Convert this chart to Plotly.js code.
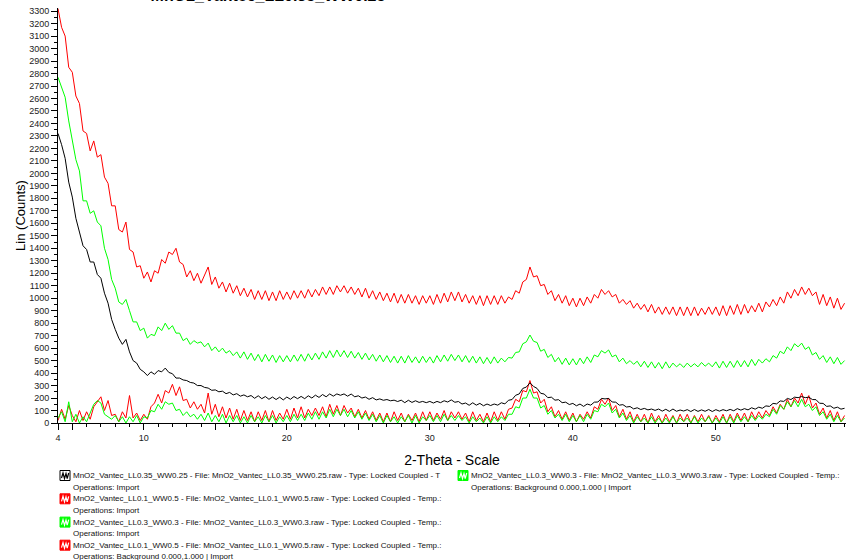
<!DOCTYPE html>
<html>
<head>
<meta charset="utf-8">
<script src="https://cdn.plot.ly/plotly-3.0.1.min.js"></script>
<style>
  html, body { margin: 0; padding: 0; background: #ffffff; }
  #chart { width: 846px; height: 560px; }
</style>
</head>
<body>
<div id="chart"></div>
<script>
// Scan grid: 2-Theta from 4° in 0.25° steps (one row below = one degree)
const thetaStart = 4;
const thetaStep = 0.25;

const scanNames = [
  "MnO2_Vantec_LL0.35_WW0.25 - File: MnO2_Vantec_LL0.35_WW0.25.raw - Type: Locked Coupled - T",
  "MnO2_Vantec_LL0.1_WW0.5 - File: MnO2_Vantec_LL0.1_WW0.5.raw - Type: Locked Coupled - Temp.:",
  "MnO2_Vantec_LL0.3_WW0.3 - File: MnO2_Vantec_LL0.3_WW0.3.raw - Type: Locked Coupled - Temp.:",
  "MnO2_Vantec_LL0.1_WW0.5 - File: MnO2_Vantec_LL0.1_WW0.5.raw - Type: Locked Coupled - Temp.:",
  "MnO2_Vantec_LL0.3_WW0.3 - File: MnO2_Vantec_LL0.3_WW0.3.raw - Type: Locked Coupled - Temp.:"
];
const scanOps = [
  "Operations: Import",
  "Operations: Import",
  "Operations: Import",
  "Operations: Background 0.000,1.000 | Import",
  "Operations: Background 0.000,1.000 | Import"
];
const scanColors = ["#000000", "#ff0000", "#00ff00", "#ff0000", "#00ff00"];

// Counts, LL0.35_WW0.25 (raw)
const countsLL035 = [
  2320, 2230, 2120, 1930,
  1810, 1640, 1530, 1420,
  1390, 1290, 1290, 1190,
  1160, 1040, 960, 830,
  750, 680, 630, 670,
  570, 500, 480, 430,
  410, 380, 410, 390,
  420, 410, 440, 405,
  395, 360, 360, 345,
  340, 325, 320, 300,
  300, 285, 280, 262,
  265, 250, 255, 235,
  245, 225, 235, 215,
  225, 210, 220, 198,
  218, 195, 212, 190,
  208, 188, 207, 185,
  208, 190, 212, 195,
  213, 195, 218, 200,
  223, 205, 228, 210,
  233, 215, 233, 222,
  233, 215, 232, 210,
  218, 200, 208, 190,
  203, 185, 193, 182,
  188, 178, 183, 172,
  183, 163, 182, 165,
  178, 165, 173, 163,
  173, 160, 173, 163,
  178, 168, 185, 166,
  172, 152, 160, 142,
  162, 143, 157, 138,
  152, 140, 152, 143,
  162, 153, 182, 188,
  222, 233, 277, 288,
  322, 293, 277, 238,
  232, 203, 207, 183,
  187, 163, 167, 148,
  157, 138, 152, 133,
  152, 143, 167, 168,
  197, 193, 197, 168,
  167, 143, 147, 128,
  132, 113, 122, 108,
  117, 105, 112, 101,
  112, 95, 110, 93,
  112, 94, 104, 96,
  107, 92, 108, 93,
  105, 94, 108, 92,
  107, 95, 107, 98,
  109, 98, 115, 103,
  115, 105, 122, 111,
  127, 118, 137, 133,
  157, 153, 177, 173,
  197, 188, 207, 203,
  212, 203, 207, 188,
  187, 158, 157, 133,
  137, 118, 127, 111,
  118
];

// Counts, LL0.1_WW0.5 (raw)
const countsLL01 = [
  3320, 3170, 3100, 2850,
  2810, 2620, 2560, 2340,
  2320, 2180, 2260, 2130,
  2150, 1970, 1920, 1740,
  1740, 1550, 1530, 1610,
  1390, 1370, 1250, 1260,
  1160, 1210, 1130, 1220,
  1200, 1310, 1280, 1370,
  1350, 1400, 1290, 1270,
  1170, 1220, 1140, 1200,
  1120, 1190, 1250, 1110,
  1170, 1080, 1130, 1050,
  1120, 1040, 1100, 1020,
  1080, 1010, 1070, 990,
  1060, 990, 1060, 980,
  1050, 980, 1060, 990,
  1050, 990, 1060, 1000,
  1060, 1000, 1070, 1010,
  1070, 1020, 1090, 1030,
  1090, 1030, 1100, 1050,
  1100, 1040, 1090, 1030,
  1080, 1010, 1080, 1000,
  1060, 990, 1050, 980,
  1040, 970, 1040, 960,
  1030, 960, 1030, 960,
  1020, 950, 1020, 960,
  1020, 950, 1030, 960,
  1040, 970, 1050, 980,
  1050, 970, 1030, 960,
  1020, 950, 1020, 940,
  1020, 950, 1020, 950,
  1020, 960, 1010, 990,
  1060, 1040, 1130, 1150,
  1250, 1170, 1180, 1100,
  1110, 1030, 1060, 980,
  1030, 960, 1020, 940,
  1000, 930, 1000, 940,
  1010, 960, 1030, 1000,
  1070, 1030, 1060, 1010,
  1030, 960, 990, 950,
  980, 920, 960, 910,
  950, 890, 950, 880,
  930, 870, 930, 870,
  930, 860, 930, 860,
  930, 860, 930, 860,
  920, 870, 930, 870,
  930, 860, 940, 860,
  940, 870, 950, 870,
  950, 880, 940, 890,
  960, 890, 970, 930,
  990, 940, 1010, 960,
  1050, 1000, 1070, 1020,
  1090, 1030, 1080, 1020,
  1050, 950, 1030, 940,
  1010, 920, 1000, 910,
  960
];

// Counts, LL0.3_WW0.3 (raw)
const countsLL03 = [
  2770, 2690, 2610, 2420,
  2260, 2110, 2020, 1780,
  1780, 1680, 1700, 1610,
  1580, 1400, 1310, 1150,
  1080, 970, 950, 990,
  900, 810, 810, 740,
  760, 680, 710, 700,
  770, 740, 800, 750,
  780, 720, 720, 660,
  680, 630, 660, 640,
  650, 610, 640, 580,
  610, 570, 600, 560,
  580, 540, 570, 520,
  570, 510, 560, 500,
  550, 490, 550, 495,
  545, 485, 540, 490,
  540, 490, 545, 495,
  550, 495, 555, 505,
  560, 510, 570, 520,
  580, 525, 585, 530,
  580, 525, 575, 520,
  565, 510, 560, 505,
  550, 495, 545, 490,
  540, 485, 535, 480,
  535, 480, 540, 485,
  530, 480, 535, 485,
  530, 480, 540, 490,
  545, 495, 550, 500,
  545, 490, 540, 485,
  535, 480, 530, 475,
  525, 475, 530, 480,
  520, 490, 525, 520,
  565, 570, 635, 650,
  705, 655, 645, 575,
  590, 525, 550, 490,
  525, 470, 520, 465,
  515, 465, 520, 475,
  530, 485, 545, 530,
  580, 560, 585, 530,
  545, 490, 520, 475,
  500, 470, 495, 450,
  495, 445, 490, 440,
  485, 435, 490, 440,
  480, 450, 475, 445,
  480, 450, 475, 450,
  485, 455, 480, 450,
  490, 440, 495, 445,
  495, 445, 500, 450,
  500, 450, 510, 460,
  510, 480, 515, 490,
  540, 520, 575, 555,
  610, 580, 635, 610,
  640, 590, 610, 545,
  565, 510, 540, 485,
  530, 475, 525, 470,
  500
];

// Counts, LL0.1_WW0.5 after background subtraction
const countsLL01Bkg = [
  20, 110, 30, 140,
  60, 10, 100, 20,
  90, 30, 130, 170,
  210, 100, 180, 60,
  70, 10, 90, 40,
  220, 40, 80, 20,
  70, 30, 130, 160,
  230, 160, 260, 240,
  310, 220, 290, 180,
  190, 120, 170, 110,
  150, 80, 240, 70,
  150, 50, 130, 40,
  120, 30, 110, 20,
  100, 20, 90, 10,
  90, 20, 100, 10,
  100, 20, 80, 30,
  110, 30, 120, 40,
  130, 40, 110, 60,
  120, 60, 130, 50,
  150, 70, 140, 60,
  140, 80, 120, 50,
  110, 40, 100, 30,
  90, 20, 80, 10,
  80, 10, 90, 20,
  80, 10, 70, 20,
  80, 10, 90, 20,
  90, 20, 80, 30,
  100, 20, 90, 40,
  90, 30, 80, 10,
  90, 20, 70, 10,
  80, 10, 90, 20,
  90, 30, 110, 120,
  190, 170, 260, 250,
  340, 240, 250, 160,
  190, 90, 130, 50,
  100, 30, 90, 20,
  80, 10, 70, 30,
  90, 40, 130, 110,
  190, 150, 200, 100,
  140, 50, 110, 30,
  90, 10, 70, 10,
  70, 0, 80, 10,
  60, 0, 70, 10,
  60, 0, 70, 10,
  70, 0, 60, 10,
  70, 10, 60, 0,
  60, 10, 70, 0,
  70, 10, 80, 20,
  80, 10, 90, 30,
  90, 40, 100, 60,
  130, 80, 150, 110,
  190, 130, 200, 160,
  240, 150, 220, 120,
  160, 70, 120, 40,
  100, 20, 90, 10,
  60
];

// Counts, LL0.3_WW0.3 after background subtraction
const countsLL03Bkg = [
  40, 90, 10, 170,
  10, 70, 0, 50,
  10, 80, 150, 180,
  160, 70, 50, 30,
  60, 10, 50, 0,
  50, 10, 60, 0,
  50, 40, 100, 90,
  150, 110, 170, 150,
  160, 100, 110, 60,
  90, 50, 70, 30,
  70, 20, 80, 10,
  60, 10, 70, 0,
  60, 10, 60, 0,
  50, 0, 60, 10,
  50, 0, 60, 10,
  60, 0, 50, 10,
  60, 10, 70, 20,
  70, 20, 80, 30,
  90, 30, 90, 40,
  110, 50, 110, 60,
  110, 50, 100, 40,
  90, 30, 80, 20,
  70, 10, 60, 0,
  60, 10, 50, 0,
  50, 10, 60, 0,
  60, 0, 50, 20,
  60, 10, 60, 10,
  70, 20, 60, 20,
  60, 20, 50, 0,
  50, 10, 40, 0,
  50, 0, 50, 10,
  50, 20, 70, 70,
  130, 120, 200, 200,
  270, 200, 200, 120,
  140, 70, 100, 40,
  70, 20, 70, 10,
  60, 10, 60, 10,
  70, 30, 100, 90,
  150, 130, 160, 80,
  110, 40, 80, 20,
  60, 0, 50, 10,
  40, 0, 50, 0,
  40, 0, 40, 0,
  50, 0, 40, 10,
  40, 0, 50, 0,
  40, 10, 50, 0,
  40, 0, 50, 0,
  50, 0, 60, 10,
  50, 10, 60, 20,
  60, 30, 70, 50,
  110, 70, 140, 110,
  170, 130, 180, 130,
  190, 130, 150, 100,
  130, 60, 90, 30,
  70, 10, 60, 10,
  40
];

const xTickVals = [4, 5, 10, 15, 20, 25, 30, 35, 40, 45, 50, 55];
const xTickText = ["4", "", "10", "", "20", "", "30", "", "40", "", "50", ""];

const FONT = "Arial, 'Liberation Sans', sans-serif";

// plot-area geometry in pixels (used to place the legend block below the axis)
const W = 846, H = 560;
const M = { l: 58, r: 0, t: 8, b: 137 };
const plotW = W - M.l - M.r, plotH = H - M.t - M.b;
const px = v => (v - M.l) / plotW;
const py = v => (H - M.b - v) / plotH;

// draw order: background-subtracted scans underneath, raw scans on top
const seriesY = [countsLL035, countsLL01, countsLL03, countsLL01Bkg, countsLL03Bkg];
const drawOrder = [3, 4, 1, 2, 0];
const traces = drawOrder.map(k => ({
  type: "scatter",
  mode: "lines",
  x0: thetaStart,
  dx: thetaStep,
  y: seriesY[k],
  name: scanNames[k],
  line: { color: scanColors[k], width: 1 },
  hoverinfo: "skip"
}));

// legend block: icon + two text lines per scan, two columns
const legendSlots = [
  { ix: 60, iy: 470.5 },
  { ix: 60, iy: 493.8 },
  { ix: 60, iy: 517.1 },
  { ix: 60, iy: 540.2 },
  { ix: 458, iy: 470.5 }
];
const annotations = [];
const shapes = [];
legendSlots.forEach((s, k) => {
  const c = scanColors[k];
  const boxed = c === "#000000";
  shapes.push({
    type: "rect", xref: "paper", yref: "paper",
    x0: px(s.ix), x1: px(s.ix + 10), y0: py(s.iy + 10), y1: py(s.iy),
    fillcolor: boxed ? "#ffffff" : c,
    line: { color: boxed ? "#000000" : c, width: 1 }
  });
  const wave = [[1.5, 7.5], [3, 2.5], [4.5, 8], [6, 3], [7.2, 8], [8.7, 2.5]];
  const path = wave.map((p, j) => (j ? "L" : "M") + px(s.ix + p[0]) + "," + py(s.iy + p[1])).join(" ");
  shapes.push({
    type: "path", xref: "paper", yref: "paper", path: path,
    line: { color: boxed ? "#000000" : "#ffffff", width: 1.2 }
  });
  annotations.push({
    xref: "paper", yref: "paper", x: px(s.ix + 10.5), y: py(s.iy + 5.2),
    xanchor: "left", yanchor: "middle", showarrow: false,
    text: scanNames[k], font: { family: FONT, size: 8, color: "#111111" }
  });
  annotations.push({
    xref: "paper", yref: "paper", x: px(s.ix + 11), y: py(s.iy + 16.7),
    xanchor: "left", yanchor: "middle", showarrow: false,
    text: scanOps[k], font: { family: FONT, size: 8, color: "#111111" }
  });
});

const layout = {
  width: W,
  height: H,
  margin: M,
  paper_bgcolor: "#ffffff",
  plot_bgcolor: "#ffffff",
  showlegend: false,
  hovermode: false,
  font: { family: FONT, color: "#222222" },
  title: {
    text: "<b>MnO2_Vantec_LL0.35_WW0.25</b>",
    font: { family: FONT, size: 16, color: "#000000" },
    x: 268 / W, xanchor: "center",
    y: 0.998, yanchor: "bottom"
  },
  xaxis: {
    range: [4, 59.1],
    showgrid: false,
    zeroline: false,
    showline: true,
    linecolor: "#000000",
    linewidth: 1,
    ticks: "outside",
    ticklen: 6,
    tickcolor: "#000000",
    tickmode: "array",
    tickvals: xTickVals,
    ticktext: xTickText,
    tickfont: { family: FONT, size: 9, color: "#222222" },
    minor: { tickmode: "linear", tick0: 0, dtick: 1, ticks: "outside", ticklen: 3, tickcolor: "#000000", showgrid: false },
    title: { text: "2-Theta - Scale", font: { family: FONT, size: 14, color: "#000000" }, standoff: 13 }
  },
  yaxis: {
    range: [0, 3325],
    showgrid: false,
    zeroline: false,
    showline: true,
    linecolor: "#000000",
    linewidth: 1,
    ticks: "outside",
    ticklen: 6,
    tickcolor: "#000000",
    tick0: 0,
    dtick: 100,
    tickformat: "d",
    tickfont: { family: FONT, size: 9, color: "#222222" },
    minor: { tick0: 0, dtick: 50, ticks: "outside", ticklen: 3, tickcolor: "#000000", showgrid: false },
    title: { text: "Lin (Counts)", font: { family: FONT, size: 13, color: "#000000" }, standoff: 0 }
  },
  shapes: shapes,
  annotations: annotations
};

Plotly.newPlot("chart", traces, layout, { staticPlot: true, displayModeBar: false });
</script>
</body>
</html>
